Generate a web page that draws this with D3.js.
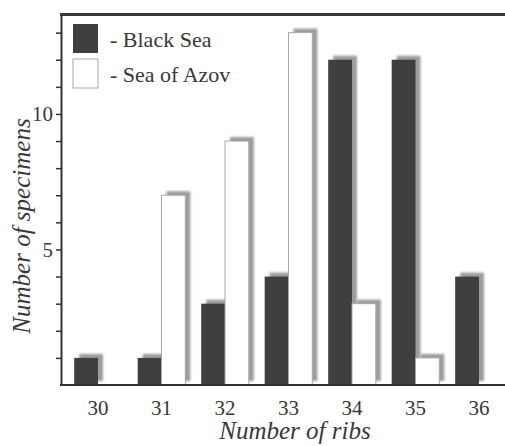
<!DOCTYPE html>
<html><head><meta charset="utf-8"></head>
<body style="margin:0">
<svg width="505" height="446"></svg>

<script src="https://d3js.org/d3.v7.min.js"></script>
<script>
let categories = ["30", "31", "32", "33", "34", "35", "36"]
let series = ["Black Sea", "Sea of Azov"]
let blackSea = [1, 1, 3, 4, 12, 12, 4]
let seaOfAzov = [0, 7, 9, 13, 3, 1, 0]
let yTicks = [1, 2, 3, 4, 5, 6, 7, 8, 9, 10, 11, 12, 13]
let yLabels = [5, 10]

let width = 505, height = 446
let plotLeft = 61, plotTop = 15, plotBottom = 385
let fontName = "Times New Roman"

let svg = d3.select("svg")

let data = categories.map((c, i) => ({cat: c, values: [
  {key: series[0], value: blackSea[i]},
  {key: series[1], value: seaOfAzov[i]}
]}))

let x = d3.scaleBand()
  .domain(categories)
  .range([66.25, 510.75])

let x1 = d3.scaleBand()
  .domain(series)
  .range([x.bandwidth() * 0.125, x.bandwidth() * 0.875])

let y = d3.scaleLinear()
  .domain([0, 13.65])
  .range([plotBottom, plotTop])

let color = d3.scaleOrdinal()
  .domain(series)
  .range(["#3f3f3f", "#ffffff"])

let defs = svg.append("defs")
defs.append("filter")
  .attr("id", "blur")
  .attr("x", "-20%").attr("y", "-20%").attr("width", "140%").attr("height", "140%")
  .append("feGaussianBlur")
  .attr("stdDeviation", 1.1)

let groups = svg.append("g")
  .selectAll("g")
  .data(data)
  .enter()
  .append("g")
  .attr("transform", d => "translate(" + x(d.cat) + ",0)")

// shadows first, bars on top
groups.selectAll("rect.shadow")
  .data(d => d.values.filter(v => v.value > 0))
  .enter()
  .append("rect")
  .attr("class", "shadow")
  .attr("x", d => x1(d.key) + 5)
  .attr("y", d => y(d.value) - 4)
  .attr("width", x1.bandwidth())
  .attr("height", d => plotBottom - y(d.value))
  .attr("fill", "#9c9c9c")
  .attr("filter", "url(#blur)")

groups.selectAll("rect.bar")
  .data(d => d.values.filter(v => v.value > 0))
  .enter()
  .append("rect")
  .attr("class", "bar")
  .attr("x", d => x1(d.key))
  .attr("y", d => y(d.value))
  .attr("width", x1.bandwidth())
  .attr("height", d => plotBottom - y(d.value))
  .attr("fill", d => color(d.key))
  .attr("stroke", d => d.key == series[1] ? "#a8a8a8" : "none")
  .attr("stroke-width", 1)

// axes
let yAxis = svg.append("g")
  .attr("transform", "translate(" + plotLeft + ",0)")
  .call(d3.axisLeft(y)
    .tickValues(yTicks)
    .tickSize(5)
    .tickSizeOuter(0)
    .tickPadding(3)
    .tickFormat(d => yLabels.includes(d) ? d : ""))
yAxis.attr("font-family", null).attr("font-size", 21)
yAxis.select(".domain").attr("stroke", "#333").attr("stroke-width", 2)
yAxis.selectAll(".tick line").attr("stroke", "#333").attr("stroke-width", 1.5)
yAxis.selectAll(".tick text")
  .style("font-family", d => "'" + fontName + "'")
  .attr("fill", "#383838")

svg.append("line")
  .attr("x1", plotLeft - 1).attr("x2", width)
  .attr("y1", 14.5).attr("y2", 14.5)
  .attr("stroke", "#383838").attr("stroke-width", 3)

svg.append("line")
  .attr("x1", plotLeft - 1).attr("x2", width)
  .attr("y1", plotBottom).attr("y2", plotBottom)
  .attr("stroke", "#333").attr("stroke-width", 2)

svg.append("g")
  .selectAll("text")
  .data(categories)
  .enter()
  .append("text")
  .attr("x", d => x(d) + x.bandwidth() / 2)
  .attr("y", 415)
  .attr("text-anchor", "middle")
  .attr("fill", "#383838")
  .attr("font-size", 21)
  .style("font-family", d => "'" + fontName + "'")
  .text(d => d)

svg.append("text")
  .attr("x", 295)
  .attr("y", 439)
  .attr("text-anchor", "middle")
  .attr("fill", "#383838")
  .attr("font-size", 25)
  .attr("font-style", "italic")
  .style("font-family", d => "'" + fontName + "'")
  .text("Number of ribs")

svg.append("text")
  .attr("transform", "translate(30,226) rotate(-90)")
  .attr("text-anchor", "middle")
  .attr("fill", "#383838")
  .attr("font-size", 25)
  .attr("font-style", "italic")
  .style("font-family", d => "'" + fontName + "'")
  .text("Number of specimens")

// legend
let legend = svg.append("g")
  .selectAll("g")
  .data(series)
  .enter()
  .append("g")
  .attr("transform", (d, i) => "translate(73," + (24 + i * 35) + ")")

legend.append("rect")
  .attr("width", 25)
  .attr("height", 29)
  .attr("fill", d => color(d))
  .attr("stroke", d => d == series[1] ? "#a8a8a8" : "none")

legend.append("text")
  .attr("x", 37)
  .attr("y", 23)
  .attr("fill", "#383838")
  .attr("font-size", 22)
  .style("font-family", d => "'" + fontName + "'")
  .text(d => "- " + d)
</script>
</body>
</html>
